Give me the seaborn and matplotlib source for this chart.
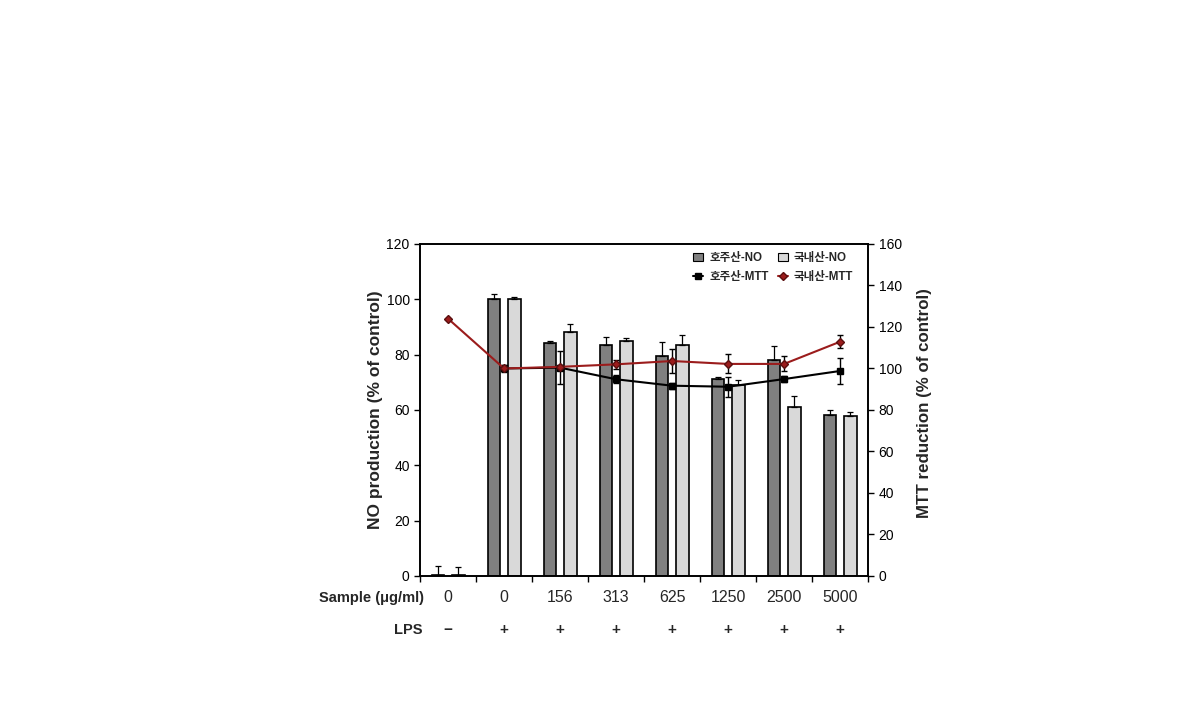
import numpy as np
import pandas as pd
import seaborn as sns
import matplotlib.pyplot as plt
import matplotlib.transforms as mtransforms
from matplotlib.lines import Line2D

# data
samples = ['0', '0', '156', '313', '625', '1250', '2500', '5000']
lps = ['−', '+', '+', '+', '+', '+', '+', '+']
groups = ['호주산-NO', '국내산-NO']
mtt_names = ['호주산-MTT', '국내산-MTT']
no_au = [0.5, 100.0, 84.1, 83.5, 79.4, 71.1, 78.0, 58.2]
no_au_err = [3.0, 1.9, 0.9, 2.9, 5.0, 0.7, 5.3, 1.7]
no_kr = [0.3, 100.0, 88.1, 84.8, 83.4, 69.0, 61.0, 57.9]
no_kr_err = [3.1, 0.8, 2.9, 1.3, 3.7, 2.0, 4.2, 1.5]
mtt_au = [np.nan, 100.0, 100.4, 94.8, 91.7, 91.2, 94.9, 98.8]
mtt_au_err = [0, 1.5, 8.0, 1.9, 1.5, 4.8, 1.5, 6.3]
mtt_kr = [124.0, 100.0, 100.8, 102.0, 103.6, 102.2, 102.2, 112.9]
mtt_kr_err = [0, 1.2, 1.0, 2.2, 6.0, 4.6, 3.6, 3.2]

bar_colors = ['#808080', '#d9d9d9']
red = '#9b1c1c'

sns.set_style('white')
plt.rcParams['font.family'] = ['Liberation Sans', 'Noto Sans CJK KR', 'DejaVu Sans']

cats = [f'{s}|{l}|{i}' for i, (s, l) in enumerate(zip(samples, lps))]
df = pd.DataFrame({
    'cat': cats * 2,
    'grp': [groups[0]] * len(cats) + [groups[1]] * len(cats),
    'val': no_au + no_kr,
})

fig = plt.figure(figsize=(11.9, 7.17), dpi=100)
ax = fig.add_axes([0.353, 0.1967, 0.3765, 0.463])

sns.barplot(data=df, x='cat', y='val', hue='grp', order=cats, hue_order=groups,
            palette=bar_colors, width=0.72, gap=0.36,
            edgecolor='black', linewidth=1.2, errorbar=None, ax=ax, legend=False)

# one-sided error bars on top of bars
for cont, errs in zip(ax.containers, [no_au_err, no_kr_err]):
    xs = [p.get_x() + p.get_width() / 2 for p in cont.patches]
    hs = [p.get_height() for p in cont.patches]
    ax.errorbar(xs, hs, yerr=[np.zeros(len(errs)), errs], fmt='none',
                ecolor='black', elinewidth=0.9, capsize=2.5, capthick=0.9)

ax.set_ylim(0, 120)
ax.set_yticks(np.arange(0, 121, 20))
ax.set_xlim(-0.5, len(cats) - 0.5)
ax.set_xticks(np.arange(-0.5, len(cats), 1))
ax.set_xticklabels([])
ax.set_xlabel('')
ax.set_ylabel('NO production (% of control)', fontsize=12.5, fontweight='bold', labelpad=2.5)
ax.tick_params(axis='both', direction='out', length=4, width=1, labelsize=10,
               bottom=True, left=True, colors='black')
for s in ax.spines.values():
    s.set_color('black')
    s.set_linewidth(1.2)

# MTT on the right axis
ax2 = ax.twinx()
xi = np.arange(len(cats))
ax2.errorbar(xi, mtt_au, yerr=mtt_au_err, color='black', marker='s', markersize=4.5,
             linewidth=1.5, elinewidth=1, capsize=2.5)
ax2.errorbar(xi, mtt_kr, yerr=mtt_kr_err, color=red, marker='D', markersize=4.5,
             markeredgecolor='#5a0f0f', linewidth=1.5, ecolor='black', elinewidth=1,
             capsize=2.5)
ax2.set_ylim(0, 160)
ax2.set_yticks(np.arange(0, 161, 20))
ax2.set_ylabel('MTT reduction (% of control)', fontsize=12.2, fontweight='bold', labelpad=11)
ax2.yaxis.label.set_y(0.521)
ax2.tick_params(axis='y', direction='out', length=4, width=1, labelsize=10, colors='black')
for s in ax2.spines.values():
    s.set_color('black')
    s.set_linewidth(1.2)

# rows under the axis
trans = mtransforms.blended_transform_factory(ax.transData, ax.transAxes)
for i, (s, l) in enumerate(zip(samples, lps)):
    ax.text(i, -0.066, s, transform=trans, ha='center', va='center', fontsize=11.5)
    ax.text(i, -0.163, l, transform=trans, ha='center', va='center', fontsize=11,
            fontweight='bold')
ax.text(0.008, -0.066, 'Sample (μg/ml)', transform=ax.transAxes, ha='right',
        va='center', fontsize=10.5, fontweight='bold')
ax.text(0.006, -0.163, 'LPS', transform=ax.transAxes, ha='right', va='center',
        fontsize=10.5, fontweight='bold')

# legend
bar_handles = [plt.Rectangle((0, 0), 1, 1, facecolor=c, edgecolor='black', linewidth=0.8)
               for c in bar_colors]
line_handles = [Line2D([], [], color='black', marker='s', markersize=4, linewidth=1.5),
                Line2D([], [], color=red, marker='D', markersize=4, linewidth=1.5,
                       markeredgecolor='#5a0f0f')]
handles = [bar_handles[0], line_handles[0], bar_handles[1], line_handles[1]]
labels = [groups[0], mtt_names[0], groups[1], mtt_names[1]]
ax2.legend(handles, labels, ncol=2, loc='upper left', bbox_to_anchor=(0.586, 1.007),
           frameon=False, handlelength=0.9, handleheight=0.6,
           columnspacing=0.8, handletextpad=0.5, labelspacing=0.6,
           prop={'weight': 'bold', 'size': 8.3})

fig.savefig('out.png', dpi=100, facecolor='white')
